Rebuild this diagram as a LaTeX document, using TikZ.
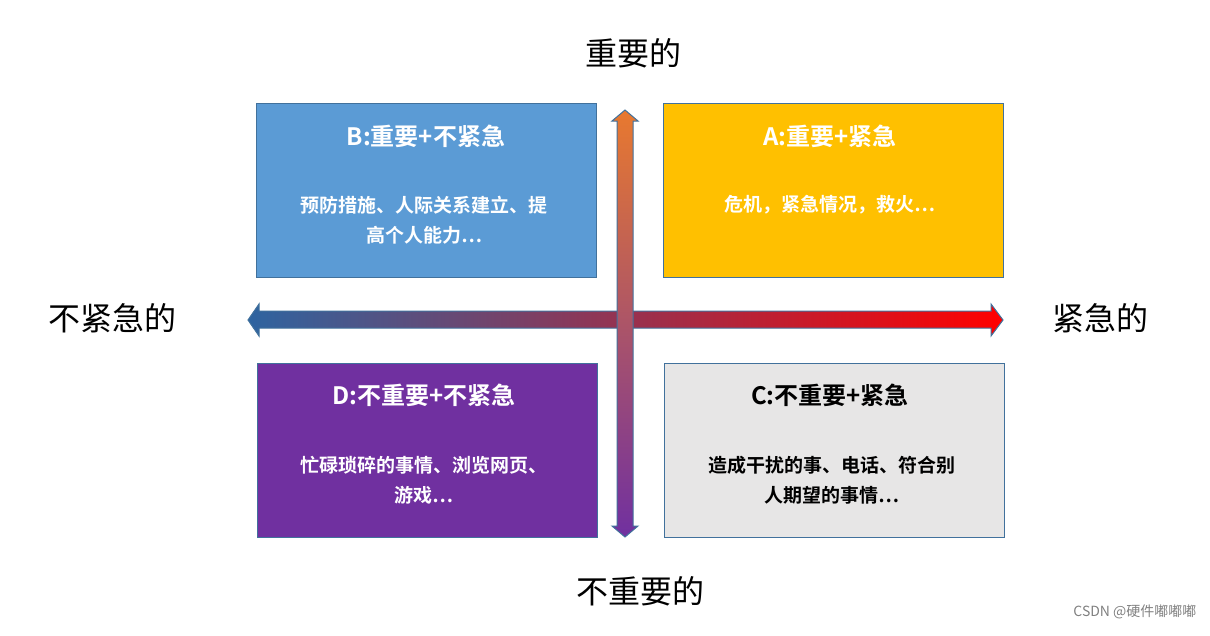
\documentclass[tikz,border=0pt]{standalone}
\usepackage{fontspec}
\newfontfamily\cjk{Noto Sans CJK SC}
\newfontfamily\cjkb{Noto Sans CJK SC Bold}
\definecolor{bord}{HTML}{41719C}
\definecolor{cB}{HTML}{5B9BD5}
\definecolor{cA}{HTML}{FFC000}
\definecolor{cD}{HTML}{7030A0}
\definecolor{cC}{HTML}{E7E6E6}
\definecolor{darkblue}{HTML}{2E64A0}
\definecolor{orng}{HTML}{E8792F}
\begin{document}
\begin{tikzpicture}[x=1pt,y=-1pt,
  box/.style={draw=bord,line width=1.2pt,minimum width=340pt,minimum height=174pt,anchor=north west},
  ttl/.style={font=\cjkb\fontsize{24}{28}\selectfont},
  bdy/.style={font=\cjkb\fontsize{19}{30}\selectfont,align=center},
  axl/.style={font=\cjk\fontsize{32}{36}\selectfont}]
\useasboundingbox (0,0) rectangle (1210,635);
\node[box,fill=cB] (B) at (256,103) {};
\node[box,fill=cA] (A) at (663,103) {};
\node[box,fill=cD] (D) at (257,363) {};
\node[box,fill=cC] (C) at (664,363) {};
\node[ttl,white] (Bt) at (426,136) {B:重要+不紧急};
\node[bdy,white] (Bb) at (424,220) {预防措施、人际关系建立、提\\高个人能力…};
\node[ttl,white] (At) at (830,136) {A:重要+紧急};
\node[bdy,white] (Ab) at (830,205) {危机，紧急情况，救火…};
\node[ttl,white] (Dt) at (424,395) {D:不重要+不紧急};
\node[bdy,white] (Db) at (424,480) {忙碌琐碎的事情、浏览网页、\\游戏…};
\node[ttl,black] (Ct) at (830,395) {C:不重要+紧急};
\node[bdy,black] (Cb) at (832,480) {造成干扰的事、电话、符合别\\人期望的事情…};
% horizontal arrow
\shade[left color=darkblue,middle color=cB,right color=red,draw=bord,line width=1pt]
 (248,320) -- (259,304) -- (259,311) -- (991,311) -- (991,304) -- (1003,320) -- (991,336) -- (991,328) -- (259,328) -- (259,336) -- cycle;
% vertical arrow
\shade[top color=orng,middle color=cB,bottom color=cD,draw=bord,line width=1pt]
 (625,110) -- (638,121) -- (633,121) -- (633,526) -- (638,526) -- (625,537) -- (612,526) -- (617,526) -- (617,121) -- (612,121) -- cycle;
\node[axl] (top) at (633,53) {重要的};
\node[axl] (bot) at (640,591) {不重要的};
\node[axl] (lft) at (112,318) {不紧急的};
\node[axl] (rgt) at (1100,318) {紧急的};
\node[font=\cjk\fontsize{14}{16}\selectfont,text=gray,anchor=east] (wm) at (1200,612) {CSDN @硬件嘟嘟嘟};
\end{tikzpicture}
\end{document}
